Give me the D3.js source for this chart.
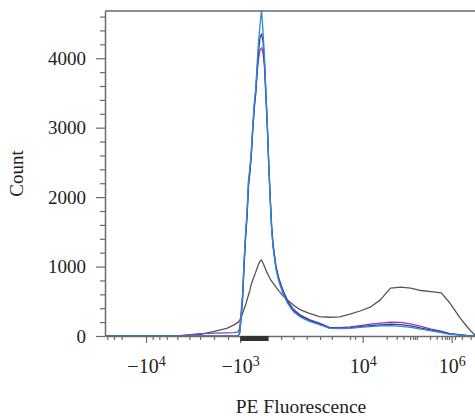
<!DOCTYPE html>
<html>
<head>
<meta charset="utf-8">
<script src="https://cdn.jsdelivr.net/npm/d3@7"></script>
<style>
  body { margin: 0; background: #fff; }
  text { font-family: "Liberation Serif", serif; fill: #222; }
</style>
</head>
<body>
<div class="histogram"></div>
<script>
// channel positions (biexponential display, 256 channels)
const channels = [0,30,50,66,76,84,89,92,93,
  94,95,96,97,98,99,100,101,102,103,104,105,106,107,108,109,110,111,112,113,114,115,116,
  118,120,123,126,130,135,141,148,155,162,169,176,183,190,197,204,211,218,225,232,238,245,250,253,256];

const grayCounts = [0,0,0,25,70,110,160,200,230,
  275,330,390,445,520,590,660,750,805,865,920,980,1035,1080,1095,1050,1005,950,905,865,820,790,760,
  705,650,575,520,445,375,325,280,270,275,315,360,415,520,690,705,690,655,640,620,475,260,130,60,0];

const blueCounts = [0,0,0,0,0,0,0,10,60,
  300,590,1090,1480,1780,2240,2420,2680,3040,3350,3570,3930,4260,4480,4700,4400,4040,3540,3040,2460,1960,1530,1270,
  960,780,600,470,350,270,210,165,110,105,110,125,135,145,150,140,125,100,75,50,25,12,4,0,0];

const navyCounts = [0,0,0,0,0,0,0,5,40,
  260,540,1020,1400,1720,2150,2360,2620,2980,3280,3500,3830,4120,4300,4350,4250,3950,3500,3050,2480,1990,1560,1300,
  990,810,630,490,370,285,225,175,115,110,118,135,150,160,170,165,145,115,85,60,30,15,5,0,0];

const purpleCounts = [0,0,0,35,40,45,50,60,120,
  370,620,1060,1450,1740,2200,2380,2640,2990,3300,3500,3800,4000,4120,4150,4080,3880,3450,3000,2450,1990,1580,1320,
  1000,830,650,510,385,300,235,185,125,120,130,150,170,185,200,195,175,140,100,70,35,18,6,0,0];

// x axis labels and where they sit in channel units
const xTickChannels = [28.3, 93.2, 177.8, 239.2];
const xTickBase = ["\u221210", "\u221210", "10", "10"];
const xTickExp = ["4", "3", "4", "6"];
const xMinorChannels = [1.6,6.2,11.5,32.9,37.5,42.6,49.9,58.2,65.6,75.2,84.9,
  121.5,130.0,139.2,148.4,156.5,169.1,172.5,194.4,201.3,205.9,210.5,212.6,214.0,215.3,
  224.3,228.9,232.4,234.6,236.0,237.4,241.5,246.3,252.3];
const xDenseRange = [93.5, 112.3];

const yTicks = [0, 1000, 2000, 3000, 4000];
const yMinor = [200,400,600,800,1200,1400,1600,1800,2200,2400,2600,2800,3200,3400,3600,3800,4200,4400,4600];

const width = 475, height = 420;
const margin = { left: 105, right: -1, top: 11, bottom: 84 };
const fontSize = 19;

const svg = d3.select(".histogram").append("svg")
  .attr("width", width).attr("height", height);

const x = d3.scaleLinear().domain([0, 256]).range([margin.left, width - margin.right]);
const y = d3.scaleLinear().domain([0, 4680]).range([height - margin.bottom, margin.top]);

const axisColor = "#6b6b6b";

svg.append("clipPath").attr("id", "plot-clip")
  .append("rect")
  .attr("x", margin.left).attr("y", margin.top - 1)
  .attr("width", width - margin.left).attr("height", height - margin.bottom - margin.top + 1);

// top frame line
svg.append("line")
  .attr("x1", margin.left).attr("x2", width)
  .attr("y1", margin.top).attr("y2", margin.top)
  .attr("stroke", axisColor).attr("stroke-width", 1.5);

// curves
const line = (counts) => d3.line()
  .x((d, i) => x(channels[i]))
  .y(d => y(d))
  .curve(d3.curveLinear)(counts);

const series = [
  { counts: grayCounts, color: "#555555" },
  { counts: purpleCounts, color: "#8e3fae" },
  { counts: navyCounts, color: "#2a3f9e" },
  { counts: blueCounts, color: "#2d8ad8" }
];

svg.append("g").attr("clip-path", "url(#plot-clip)")
  .selectAll("path")
  .data(series)
  .enter().append("path")
  .attr("d", d => line(d.counts))
  .attr("fill", "none")
  .attr("stroke", d => d.color)
  .attr("stroke-width", 1.3)
  .attr("stroke-linejoin", "round");

// y axis
const yAxis = svg.append("g")
  .attr("transform", "translate(" + margin.left + ",0)")
  .call(d3.axisLeft(y).tickValues(yTicks).tickSize(9).tickSizeOuter(0).tickPadding(10)
    .tickFormat(d3.format("d")));
svg.append("g")
  .attr("transform", "translate(" + margin.left + ",0)")
  .call(d3.axisLeft(y).tickValues(yMinor).tickSize(5).tickSizeOuter(0).tickFormat(""))
  .call(g => g.select(".domain").remove());

// x axis
const xAxis = svg.append("g")
  .attr("transform", "translate(0," + (height - margin.bottom) + ")")
  .call(d3.axisBottom(x).tickValues(xTickChannels).tickSize(7).tickSizeOuter(0).tickPadding(16)
    .tickFormat(() => ""));
svg.append("g")
  .attr("transform", "translate(0," + (height - margin.bottom) + ")")
  .call(d3.axisBottom(x).tickValues(xMinorChannels).tickSize(4).tickFormat(""))
  .call(g => g.select(".domain").remove());
svg.append("g")
  .attr("class", "dense")
  .attr("transform", "translate(0," + (height - margin.bottom) + ")")
  .call(d3.axisBottom(x).tickValues(d3.range(xDenseRange[0], xDenseRange[1], 0.3)).tickSize(5).tickFormat(""))
  .call(g => g.select(".domain").remove());

xAxis.selectAll(".tick text").each(function (d, i) {
  const t = d3.select(this);
  t.append("tspan").text(xTickBase[i]);
  t.append("tspan").attr("dy", "-0.5em").attr("font-size", "14px").text(xTickExp[i]);
});

yAxis.selectAll(".tick text").attr("font-size", fontSize + "px");
xAxis.selectAll(".tick text").attr("font-size", (fontSize + 1) + "px");
[yAxis, xAxis].forEach(g => {
  g.select(".domain").attr("stroke", axisColor).attr("stroke-width", 1.5);
  g.selectAll(".tick text").attr("fill", "#222")
    .attr("font-family", "Liberation Serif, serif");
});
svg.selectAll(".tick line").attr("stroke", axisColor).attr("stroke-width", 1.2);
svg.selectAll(".dense .tick line").attr("stroke", "#333");

// axis titles
svg.append("text")
  .attr("transform", "translate(23," + ((margin.top + height - margin.bottom) / 2) + ") rotate(-90)")
  .attr("text-anchor", "middle")
  .attr("font-size", fontSize + "px")
  .text("Count");

svg.append("text")
  .attr("x", (margin.left + width) / 2 + 11)
  .attr("y", 413)
  .attr("text-anchor", "middle")
  .attr("font-size", (fontSize + 0.5) + "px")
  .text("PE Fluorescence");
</script>
</body>
</html>
